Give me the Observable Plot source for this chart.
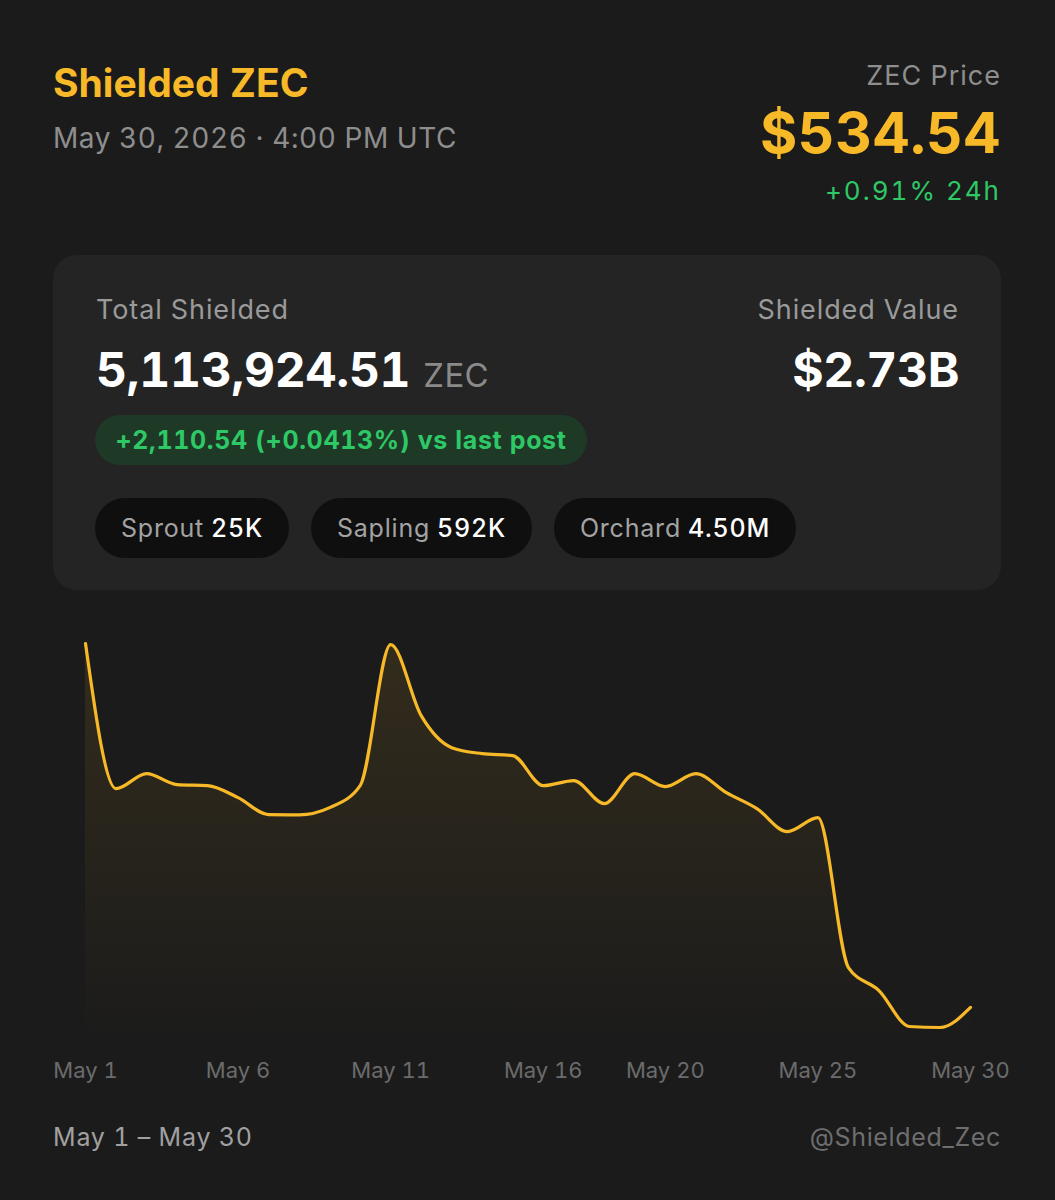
<!DOCTYPE html>
<html><head><meta charset="utf-8">
<script src="https://cdn.jsdelivr.net/npm/d3@7"></script>
<script src="https://cdn.jsdelivr.net/npm/@observablehq/plot@0.6"></script>
<style>
html,body{margin:0;padding:0;background:#1b1b1b;}
body{width:1055px;height:1200px;position:relative;font-family:Inter,"Noto Sans",sans-serif;overflow:hidden;font-variant-numeric:tabular-nums;}
.t{position:absolute;white-space:nowrap;line-height:1;}
.card{position:absolute;left:53px;top:255px;width:948px;height:335px;border-radius:24px;background:#242424;}
.badge{position:absolute;left:95px;top:415px;width:492px;height:50px;border-radius:25px;background:#1e3a27;color:#2ec866;font-size:25px;font-weight:700;letter-spacing:0.65px;display:flex;align-items:center;justify-content:center;white-space:nowrap;}
.pill{position:absolute;top:498px;height:60px;border-radius:30px;background:#0f0f0f;color:#a3a3a3;font-size:25px;letter-spacing:0.8px;display:flex;align-items:center;justify-content:center;white-space:nowrap;}
.pill b{color:#fff;font-weight:500;margin-left:7px;}
#chart{position:absolute;left:0;top:620px;}
</style></head>
<body>
<div class="t" style="left:53px;top:63px;font-size:39px;font-weight:700;color:#f7b928;">Shielded ZEC</div>
<div class="t" style="left:53px;top:124px;font-size:28px;color:#8e8e8e;letter-spacing:0.55px;">May 30, 2026 · 4:00 PM UTC</div>
<div class="t" style="right:54px;top:62px;font-size:27px;color:#8e8e8e;letter-spacing:1px;">ZEC Price</div>
<div class="t" style="right:54px;top:104px;font-size:57px;font-weight:700;color:#f7b928;letter-spacing:0.6px;">$534.54</div>
<div class="t" style="right:54px;top:178px;font-size:26px;color:#2ec866;letter-spacing:2px;">+0.91% 24h</div>

<div class="card"></div>
<div class="t" style="left:96px;top:296px;font-size:27px;color:#9a9a9a;letter-spacing:0.9px;">Total Shielded</div>
<div class="t" style="left:96px;top:346px;font-size:48px;font-weight:700;color:#ffffff;letter-spacing:-0.3px;">5,113,924.51<span style="font-size:33px;font-weight:400;color:#8a8a8a;margin-left:13px;letter-spacing:0.3px;">ZEC</span></div>
<div class="t" style="right:96px;top:346px;font-size:48px;font-weight:700;color:#ffffff;letter-spacing:-0.4px;">$2.73B</div>
<div class="t" style="right:96px;top:296px;font-size:27px;color:#9a9a9a;letter-spacing:0.9px;">Shielded Value</div>
<div class="badge">+2,110.54 (+0.0413%) vs last post</div>
<div class="pill" style="left:95px;width:194px;">Sprout<b>25K</b></div>
<div class="pill" style="left:311px;width:221px;">Sapling<b>592K</b></div>
<div class="pill" style="left:554px;width:242px;">Orchard<b>4.50M</b></div>

<div id="chart"></div>
<div class="t" style="left:53px;top:1125px;font-size:25px;color:#a0a0a0;letter-spacing:0.8px;">May 1 – May 30</div>
<div class="t" style="right:54px;top:1125px;font-size:25px;color:#6e6e6e;letter-spacing:0.65px;">@Shielded_Zec</div>

<script>
const days = [1,2,3,4,5,6,7,8,9,10,11,12,13,14,15,16,17,18,19,20,21,22,23,24,25,26,27,28,29,30];
const shielded = [5296000,5223400,5230900,5225400,5224900,5218900,5210400,5210300,5213900,5224900,
  5295400,5259900,5243900,5240900,5239900,5224900,5227400,5215900,5230900,5224400,
  5230900,5221400,5213400,5201900,5208900,5133900,5122400,5104400,5103900,5113925];
const tickDays = [1,6,11,16,20,25,30];
const yDomain = [5094900, 5296000];

const date = d => new Date(Date.UTC(2026, 4, d));
const data = days.map((d, i) => ({date: date(d), value: shielded[i]}));

const defs = () => {
  const svgNS = "http://www.w3.org/2000/svg";
  const g = document.createElementNS(svgNS, "defs");
  g.innerHTML = `<linearGradient id="areaGrad" x1="0" y1="0" x2="0" y2="1">
    <stop offset="0" stop-color="#f7b928" stop-opacity="0.11"/>
    <stop offset="1" stop-color="#f7b928" stop-opacity="0.0"/>
  </linearGradient>`;
  return g;
};

const chart = Plot.plot({
  width: 1055,
  height: 460,
  marginLeft: 85,
  marginRight: 85,
  marginTop: 23,
  marginBottom: 35,
  style: {background: "transparent", color: "#6b6b6b", fontFamily: "Inter, sans-serif", fontSize: "22px", overflow: "visible"},
  x: {type: "utc", domain: [date(days[0]), date(days[days.length - 1])]},
  y: {domain: yDomain, axis: null},
  marks: [
    defs,
    Plot.areaY(data, {x: "date", y1: yDomain[0], y2: "value", curve: "monotone-x", fill: "url(#areaGrad)"}),
    Plot.lineY(data, {x: "date", y: "value", curve: "monotone-x", stroke: "#f7b928", strokeWidth: 3.2, strokeLinejoin: "round", strokeLinecap: "round"}),
    Plot.axisX({ticks: tickDays.map(date), tickFormat: d3.utcFormat("%b %-d"), tickSize: 0, tickPadding: 17, fontSize: 22, fill: "#6b6b6b"})
  ]
});
document.getElementById("chart").appendChild(chart);
</script>
</body></html>
